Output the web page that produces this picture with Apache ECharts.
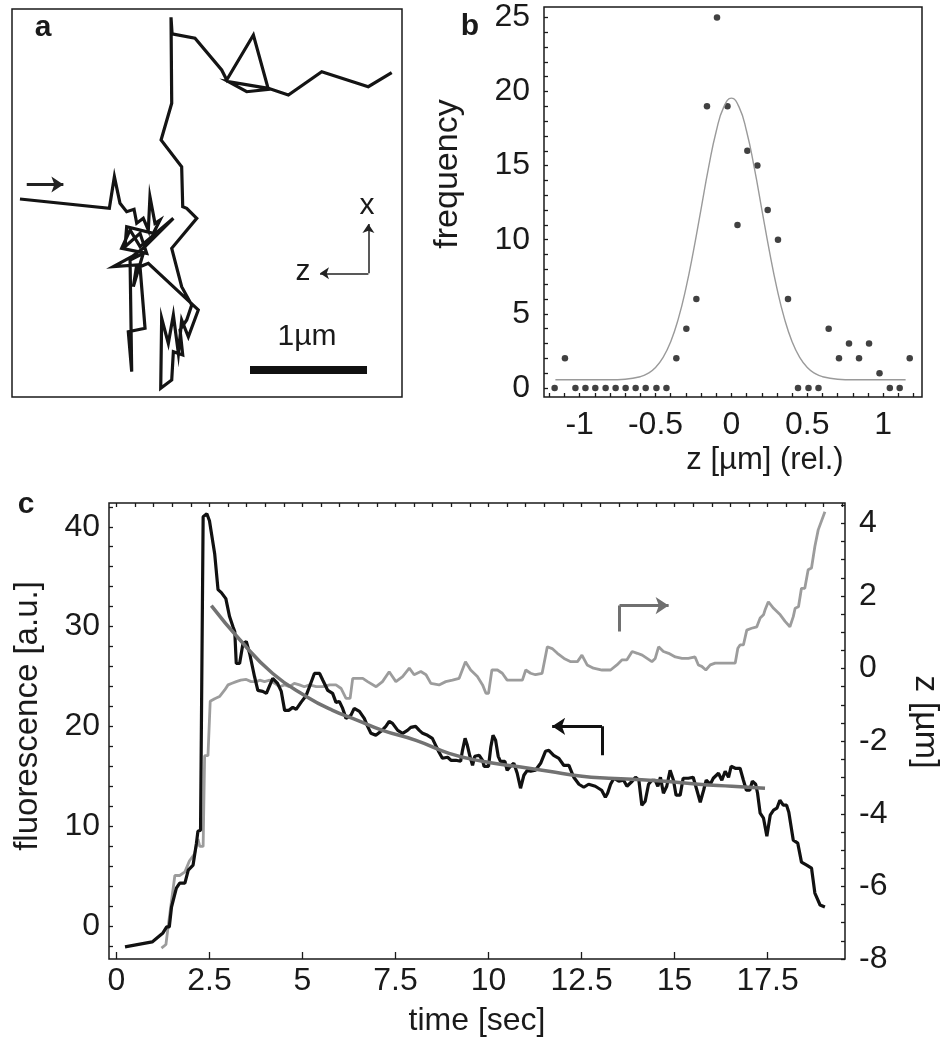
<!DOCTYPE html>
<html><head><meta charset="utf-8">
<script src="https://cdn.jsdelivr.net/npm/echarts@6/dist/echarts.min.js"></script>
<style>html,body{margin:0;padding:0;background:#fff}#chart{width:950px;height:1050px}</style>
</head><body><div id="chart"></div>
<script>
// ---------- Panel a: trajectory (µm, horizontal / vertical) ----------
const trajectory = [
 [0.068,1.692],[0.832,1.613],[0.875,1.883],[0.923,1.655],[0.980,1.584],[1.043,1.604],[1.066,1.485],
 [1.122,1.527],[1.165,1.427],[1.179,1.712],[1.222,1.485],[1.265,1.513],[1.208,1.399],[0.980,1.456],
 [0.966,1.285],[1.094,1.399],[1.151,1.228],[0.937,1.271],[1.009,1.427],[1.094,1.285],[1.379,1.527],
 [1.122,1.271],[1.023,1.199],[0.866,1.114],[1.066,1.128],[1.037,0.943],[1.122,1.228],[1.009,1.171],
 [1.023,0.216],[0.994,0.558],[1.137,0.587],[1.094,1.114],[1.165,1.143],[1.592,0.744],[1.507,0.515],
 [1.450,0.658],[1.422,0.373],[1.379,0.701],[1.336,0.459],[1.279,0.673],[1.271,0.074],[1.365,0.145],
 [1.379,0.387],[1.459,0.359],[1.436,0.573],[1.493,0.658],[1.536,0.786],[1.450,0.943],[1.365,1.271],
 [1.579,1.527],[1.493,1.613],[1.459,1.627],[1.450,1.968],[1.274,2.197],[1.365,2.510],[1.359,3.245],
 [1.368,3.103],[1.564,3.066],[1.792,2.795],[1.835,2.709],[2.063,3.094],[2.191,2.630],[2.006,2.609],
 [1.849,2.695],[2.191,2.638],[2.362,2.581],[2.647,2.780],[3.045,2.652],[3.245,2.772]
];
const startArrow = [[0.126,1.817],[0.439,1.817]];
const scaleBar = [[2.034,0.231],[3.034,0.231]];
const axisX = [[3.046,1.057],[3.046,1.479]];
const axisZ = [[3.046,1.057],[2.632,1.057]];

// ---------- Panel b: histogram of z ----------
const zBins = [-1.165,-1.097,-1.028,-0.962,-0.897,-0.829,-0.763,-0.697,-0.631,-0.565,-0.494,-0.428,
 -0.363,-0.297,-0.231,-0.161,-0.095,-0.026,0.040,0.105,0.171,0.239,0.307,0.373,0.439,0.508,0.574,
 0.641,0.709,0.775,0.841,0.907,0.976,1.044,1.109,1.175];
const zFreq = [0,2,0,0,0,0,0,0,0,0,0,0,2,4,6,19,25,19,11,16,15,12,10,6,0,0,0,4,2,3,2,3,1,0,0,2];
const fitZ = [-1.16,-0.8,-0.7,-0.6,-0.55,-0.5,-0.45,-0.4,-0.35,-0.3,-0.25,-0.2,-0.15,-0.1,-0.05,0,
 0.05,0.1,0.15,0.2,0.25,0.3,0.35,0.4,0.45,0.5,0.55,0.6,0.7,0.8,1.148];
const fitFreq = [0.55,0.55,0.59,0.76,0.98,1.38,2.06,3.12,4.66,6.72,9.25,12.07,14.89,17.32,18.96,19.55,
 18.96,17.32,14.89,12.07,9.25,6.72,4.66,3.12,2.06,1.38,0.98,0.76,0.59,0.55,0.55];
const bXLabels = [-1,-0.5,0,0.5,1];
const bYLabels = [0,5,10,15,20,25];

// ---------- Panel c: time traces ----------
const fluorescence = [
 [0.23,-2.1],[0.96,-1.6],[1.25,-0.7],[1.35,-0.1],[1.42,-0.1],[1.48,1.9],[1.61,3.8],[1.7,4.3],[1.84,4.3],
 [1.93,5.6],[2.06,6.1],[2.15,8.3],[2.19,9.5],[2.26,9.6],[2.33,41.0],[2.43,41.3],[2.5,40.6],[2.64,37.3],
 [2.73,33.7],[2.82,33.4],[2.94,32.8],[3.04,31.0],[3.13,30.0],[3.18,29.5],[3.22,26.3],[3.31,26.3],[3.4,28.3],
 [3.49,28.5],[3.58,27.3],[3.71,25.0],[3.8,23.6],[3.93,23.5],[4.03,23.3],[4.12,24.1],[4.2,24.8],[4.33,24.3],
 [4.43,23.5],[4.52,21.6],[4.63,21.6],[4.74,21.9],[4.83,21.7],[4.96,22.4],[5.1,23.1],[5.19,24.0],[5.32,25.3],
 [5.46,25.3],[5.55,24.6],[5.68,23.6],[5.81,23.3],[5.9,22.4],[5.99,22.5],[6.08,21.8],[6.17,20.8],[6.3,21.1],
 [6.39,21.8],[6.44,21.8],[6.53,21.5],[6.66,20.8],[6.75,20.0],[6.84,19.3],[6.97,19.1],[7.11,19.5],[7.24,20.0],
 [7.33,20.5],[7.42,20.3],[7.56,19.6],[7.69,19.3],[7.82,19.6],[7.91,19.9],[8.04,20.0],[8.14,19.6],[8.23,19.3],
 [8.36,19.1],[8.49,18.8],[8.58,18.1],[8.67,17.4],[8.76,16.8],[8.9,16.9],[8.99,16.6],[9.12,16.6],[9.25,16.5],
 [9.3,17.6],[9.37,18.8],[9.43,18.1],[9.5,17.0],[9.57,16.1],[9.63,17.0],[9.75,17.1],[9.84,16.6],[9.88,16.0],
 [10.0,16.0],[10.06,17.9],[10.12,19.1],[10.19,18.6],[10.26,17.0],[10.32,16.5],[10.44,16.5],[10.5,15.6],
 [10.59,16.0],[10.68,16.3],[10.77,15.3],[10.86,13.8],[10.95,15.1],[11.04,15.6],[11.13,15.5],[11.26,15.6],
 [11.4,16.3],[11.53,17.5],[11.62,17.6],[11.75,17.1],[11.89,16.8],[12.02,16.1],[12.16,16.1],[12.29,14.9],
 [12.43,14.2],[12.56,13.9],[12.69,14.2],[12.87,14.0],[13.04,13.6],[13.14,12.9],[13.2,13.3],[13.28,14.2],
 [13.37,14.8],[13.5,14.5],[13.63,14.6],[13.72,14.0],[13.86,14.5],[13.95,14.9],[14.04,14.6],[14.12,12.1],
 [14.21,12.5],[14.3,14.2],[14.39,14.6],[14.48,14.6],[14.55,14.0],[14.62,14.9],[14.7,13.3],[14.79,14.0],
 [14.88,15.6],[14.97,14.6],[15.04,13.1],[15.15,13.1],[15.23,14.8],[15.37,14.8],[15.5,14.9],[15.6,13.6],
 [15.69,12.4],[15.78,13.6],[15.85,14.6],[15.96,14.2],[16.04,14.8],[16.18,15.3],[16.27,14.6],[16.36,15.5],
 [16.45,14.9],[16.52,16.0],[16.63,15.8],[16.76,15.8],[16.85,14.6],[16.93,13.6],[17.02,13.6],[17.09,14.5],
 [17.18,14.2],[17.23,13.3],[17.3,11.3],[17.39,10.8],[17.48,9.0],[17.57,11.1],[17.66,11.6],[17.75,11.8],
 [17.83,12.6],[17.92,12.1],[18.01,12.1],[18.07,11.4],[18.19,8.6],[18.31,8.3],[18.41,6.4],[18.55,6.1],
 [18.68,5.8],[18.77,3.3],[18.91,2.1],[19.04,1.9]
];
const zPosition = [
 [1.21,-7.7],[1.33,-7.6],[1.39,-7.1],[1.48,-6.4],[1.57,-5.7],[1.7,-5.7],[1.84,-5.6],[1.96,-5.3],[2.1,-5.1],
 [2.19,-4.7],[2.24,-4.9],[2.33,-4.9],[2.37,-2.4],[2.46,-2.4],[2.52,-0.9],[2.64,-0.83],[2.77,-0.77],
 [2.91,-0.59],[3.0,-0.45],[3.09,-0.41],[3.22,-0.36],[3.34,-0.32],[3.49,-0.3],[3.62,-0.36],[3.76,-0.36],
 [3.85,-0.32],[3.98,-0.36],[4.12,-0.32],[4.26,-0.41],[4.38,-0.5],[4.52,-0.45],[4.65,-0.5],[4.78,-0.41],
 [4.92,-0.45],[5.05,-0.5],[5.19,-0.45],[5.37,-0.5],[5.55,-0.5],[5.73,-0.45],[5.9,-0.45],[6.04,-0.55],
 [6.17,-0.82],[6.28,-0.82],[6.35,-0.27],[6.62,-0.27],[6.75,-0.36],[6.98,-0.5],[7.15,-0.36],[7.33,-0.09],
 [7.51,-0.36],[7.69,-0.22],[7.87,0.01],[8.0,-0.17],[8.18,-0.08],[8.32,-0.17],[8.45,-0.41],[8.67,-0.45],
 [8.85,-0.36],[9.03,-0.32],[9.21,-0.27],[9.38,0.19],[9.52,-0.04],[9.7,-0.22],[9.84,-0.45],[9.93,-0.68],
 [10.0,-0.68],[10.09,-0.04],[10.24,-0.04],[10.37,-0.13],[10.5,-0.32],[10.73,-0.32],[10.91,-0.32],
 [11.0,-0.04],[11.13,-0.13],[11.26,-0.17],[11.44,-0.13],[11.58,0.6],[11.71,0.55],[11.85,0.42],[12.03,0.28],
 [12.21,0.19],[12.39,0.19],[12.51,0.37],[12.65,0.1],[12.82,0.01],[13.05,-0.04],[13.28,-0.04],[13.45,0.1],
 [13.59,0.24],[13.72,0.24],[13.86,0.47],[14.0,0.42],[14.13,0.37],[14.26,0.28],[14.39,0.19],[14.48,0.28],
 [14.57,0.6],[14.7,0.47],[14.84,0.42],[15.02,0.32],[15.2,0.28],[15.37,0.28],[15.55,0.32],[15.64,0.1],
 [15.73,0.06],[15.84,-0.04],[15.96,0.1],[16.09,0.15],[16.63,0.15],[16.7,0.56],[16.76,0.65],[16.85,0.65],
 [16.94,1.06],[17.07,1.11],[17.21,1.15],[17.3,1.39],[17.39,1.48],[17.43,1.61],[17.52,1.84],[17.66,1.66],
 [17.84,1.48],[17.97,1.3],[18.1,1.15],[18.19,1.43],[18.24,1.66],[18.33,1.7],[18.41,2.21],[18.5,2.21],
 [18.59,2.72],[18.68,2.77],[18.77,3.36],[18.86,3.82],[19.04,4.32]
];
const decayFit = [
 [2.55,32.1],[3.31,28.7],[4.2,25.3],[5.1,23.0],[5.81,21.6],[6.48,20.6],[7.15,19.6],[8.05,18.6],[8.94,17.3],
 [9.83,16.5],[10.73,16.0],[11.62,15.5],[12.51,15.0],[13.23,14.8],[13.86,14.7],[14.75,14.5],[15.64,14.2],
 [16.54,14.0],[17.43,13.8]
];
const arrowRightStem = [[13.52,29.5],[13.52,32.1]];
const arrowRightHead = [[13.52,32.1],[14.84,32.1]];
const arrowLeftStem = [[13.05,17.1],[13.05,20.0]];
const arrowLeftHead = [[13.05,20.0],[11.71,20.0]];
const cTimeLabels = [0,2.5,5,7.5,10,12.5,15,17.5];
const cFluoLabels = [0,10,20,30,40];
const cZLabels = [-8,-6,-4,-2,0,2,4];

// ---------- helpers ----------
function steps(a, b, s){ const r=[]; for(let v=a; v<=b+1e-9; v+=s) r.push(Math.round(v*1000)/1000); return r; }
const FONT = "'Liberation Sans', Arial, sans-serif";
const INK = '#1a1a1a';
const txt = (size, extra) => Object.assign({fontFamily: FONT, fontSize: size, color: INK}, extra || {});
const tick = (vals, len) => ({show:true, inside:true, length:len, customValues: vals, lineStyle:{color:INK, width:1.3}});
const noLine = {show:false, onZero:false};

const chart = echarts.init(document.getElementById('chart'));
chart.setOption({
  animation: false,
  backgroundColor: '#fff',
  grid: [
    {left:12, top:9, width:390, height:388, show:true, borderColor:INK, borderWidth:1.5, backgroundColor:'transparent'},
    {left:544, top:7, width:378, height:390, show:true, borderColor:INK, borderWidth:1.5, backgroundColor:'transparent'},
    {left:109, top:503, width:738, height:456, show:true, borderColor:INK, borderWidth:1.5, backgroundColor:'transparent'}
  ],
  xAxis: [
    {gridIndex:0, type:'value', min:0, max:3.333, show:false},
    {gridIndex:1, type:'value', min:-1.235, max:1.256, splitLine:{show:false}, axisLine:noLine,
     axisTick: tick(steps(-1.2,1.2,0.1),4),
     axisLabel:{customValues:bXLabels, margin:12, ...txt(32)},
     name:'z [µm] (rel.)', nameLocation:'middle', nameGap:48, nameTextStyle:txt(31,{padding:[0,0,0,64]})},
    {gridIndex:2, type:'value', min:-0.2, max:19.58, splitLine:{show:false}, axisLine:noLine,
     axisTick: tick(cTimeLabels,7),
     axisLabel:{customValues:cTimeLabels, margin:6, ...txt(32)},
     name:'time [sec]', nameLocation:'middle', nameGap:46, nameTextStyle:txt(32)},
    {gridIndex:2, type:'value', min:-0.2, max:19.58, splitLine:{show:false}, axisLine:noLine,
     axisTick: tick(steps(0,19.5,0.5),4), axisLabel:{show:false}}
  ],
  yAxis: [
    {gridIndex:0, type:'value', min:0, max:3.316, show:false},
    {gridIndex:1, type:'value', min:-0.61, max:25.7, splitLine:{show:false}, axisLine:noLine,
     axisTick: tick(steps(0,25,1),4),
     axisLabel:{customValues:bYLabels, margin:14, ...txt(32)},
     name:'frequency', nameLocation:'middle', nameRotate:90, nameGap:79, nameTextStyle:txt(34,{padding:[0,0,0,56]})},
    {gridIndex:2, type:'value', min:-3.31, max:42.38, splitLine:{show:false}, axisLine:noLine,
     axisTick: tick(steps(-2,42,2),4),
     axisLabel:{customValues:cFluoLabels, margin:9, ...txt(32)},
     name:'fluorescence [a.u.]', nameLocation:'middle', nameRotate:90, nameGap:65, nameTextStyle:txt(33,{padding:[0,0,0,30]})},
    {gridIndex:2, type:'value', position:'right', min:-8, max:4.56, splitLine:{show:false}, axisLine:noLine,
     axisTick: tick(steps(-8,4.5,0.5),4),
     axisLabel:{customValues:cZLabels, margin:14, ...txt(32)},
     name:'z [µm]', nameLocation:'middle', nameRotate:-90, nameGap:63, nameTextStyle:txt(34,{padding:[0,18,0,0]})}
  ],
  series: [
    // panel a
    {type:'line', xAxisIndex:0, yAxisIndex:0, data:trajectory, symbol:'none', lineStyle:{color:'#141414', width:3.2, join:'miter'}},
    {type:'lines', coordinateSystem:'cartesian2d', xAxisIndex:0, yAxisIndex:0, symbol:['none','arrow'], symbolSize:[10,12],
     lineStyle:{color:'#222', width:3, opacity:1}, data:[{coords:startArrow}]},
    {type:'lines', coordinateSystem:'cartesian2d', xAxisIndex:0, yAxisIndex:0, symbol:'none',
     lineStyle:{color:'#111', width:8, opacity:1, cap:'butt'}, data:[{coords:scaleBar}]},
    {type:'lines', coordinateSystem:'cartesian2d', xAxisIndex:0, yAxisIndex:0, symbol:['none','arrow'], symbolSize:[7,9],
     lineStyle:{color:'#222', width:1.5, opacity:1}, data:[{coords:axisX},{coords:axisZ}]},
    // panel b
    {type:'line', xAxisIndex:1, yAxisIndex:1, data:fitZ.map((z,i)=>[z,fitFreq[i]]), smooth:true, symbol:'none',
     lineStyle:{color:'#9a9a9a', width:1.4}},
    {type:'scatter', xAxisIndex:1, yAxisIndex:1, data:zBins.map((z,i)=>[z,zFreq[i]]), symbol:'circle', symbolSize:6.5,
     itemStyle:{color:'#111'}},
    // panel c
    {type:'line', xAxisIndex:2, yAxisIndex:3, data:zPosition, symbol:'none', lineStyle:{color:'#9c9c9c', width:2.8}},
    {type:'line', xAxisIndex:2, yAxisIndex:2, data:fluorescence, symbol:'none', lineStyle:{color:'#111', width:3.2}},
    {type:'line', xAxisIndex:2, yAxisIndex:2, data:decayFit, smooth:true, symbol:'none', lineStyle:{color:'#727272', width:3.5}},
    {type:'lines', coordinateSystem:'cartesian2d', xAxisIndex:2, yAxisIndex:2, symbol:'none',
     lineStyle:{color:'#707070', width:3, opacity:1}, data:[{coords:arrowRightStem}]},
    {type:'lines', coordinateSystem:'cartesian2d', xAxisIndex:2, yAxisIndex:2, symbol:['none','arrow'], symbolSize:[11,13],
     lineStyle:{color:'#707070', width:3, opacity:1}, data:[{coords:arrowRightHead}]},
    {type:'lines', coordinateSystem:'cartesian2d', xAxisIndex:2, yAxisIndex:2, symbol:'none',
     lineStyle:{color:'#111', width:3, opacity:1}, data:[{coords:arrowLeftStem}]},
    {type:'lines', coordinateSystem:'cartesian2d', xAxisIndex:2, yAxisIndex:2, symbol:['none','arrow'], symbolSize:[11,13],
     lineStyle:{color:'#111', width:3, opacity:1}, data:[{coords:arrowLeftHead}]}
  ],
  graphic: [
    {type:'text', x:43, y:28, style:{text:'a', font:"bold 30px 'Liberation Sans', Arial, sans-serif", fill:INK, align:'center', verticalAlign:'middle'}},
    {type:'text', x:470, y:27, style:{text:'b', font:"bold 30px 'Liberation Sans', Arial, sans-serif", fill:INK, align:'center', verticalAlign:'middle'}},
    {type:'text', x:26, y:505, style:{text:'c', font:"bold 30px 'Liberation Sans', Arial, sans-serif", fill:INK, align:'center', verticalAlign:'middle'}},
    {type:'text', x:307, y:337, style:{text:'1µm', font:"30px 'Liberation Sans', Arial, sans-serif", fill:INK, align:'center', verticalAlign:'middle'}},
    {type:'text', x:367, y:206, style:{text:'x', font:"30px 'Liberation Sans', Arial, sans-serif", fill:INK, align:'center', verticalAlign:'middle'}},
    {type:'text', x:303, y:272, style:{text:'z', font:"30px 'Liberation Sans', Arial, sans-serif", fill:INK, align:'center', verticalAlign:'middle'}}
  ]
});
</script></body></html>
